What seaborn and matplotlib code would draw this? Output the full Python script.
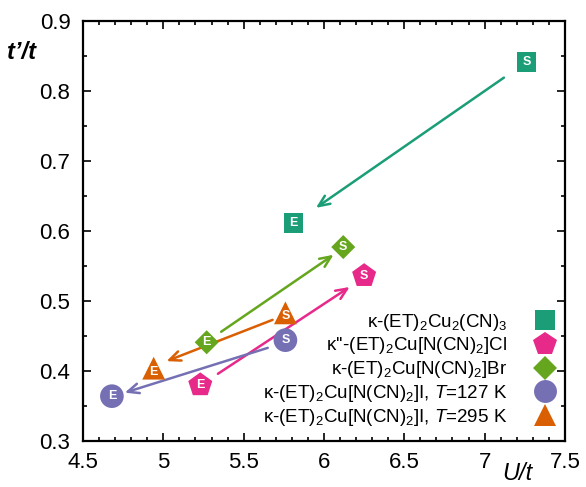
import matplotlib
matplotlib.use("Agg")
import matplotlib.pyplot as plt
import seaborn as sns
import pandas as pd
from matplotlib.lines import Line2D

# compounds and their start (S) / end (E) points
labels = [
    r"κ-(ET)$_2$Cu$_2$(CN)$_3$",
    r"κ''-(ET)$_2$Cu[N(CN)$_2$]Cl",
    r"κ-(ET)$_2$Cu[N(CN)$_2$]Br",
    r"κ-(ET)$_2$Cu[N(CN)$_2$]I, $\mathit{T}$=127 K",
    r"κ-(ET)$_2$Cu[N(CN)$_2$]I, $\mathit{T}$=295 K",
]
u_start = [7.26, 6.25, 6.12, 5.76, 5.76]
t_start = [0.841, 0.536, 0.577, 0.444, 0.483]
u_end = [5.81, 5.23, 5.27, 4.68, 4.94]
t_end = [0.611, 0.380, 0.441, 0.364, 0.404]

# arrow tails and heads
arr_u0 = [7.12, 5.34, 5.36, 5.65, 5.68]
arr_t0 = [0.819, 0.396, 0.456, 0.433, 0.473]
arr_u1 = [5.95, 6.16, 6.06, 4.76, 5.02]
arr_t1 = [0.633, 0.520, 0.566, 0.369, 0.414]

colors = ["#1b9e77", "#e7298a", "#66a61e", "#7570b3", "#d95f02"]
markers = ["s", "p", "D", "o", "^"]
msize = [200, 330, 150, 290, 270]
leg_ms = [15, 17.5, 12, 16.5, 16]

plt.rcParams["font.family"] = ["Liberation Sans", "DejaVu Sans"]
plt.rcParams["mathtext.fontset"] = "custom"
plt.rcParams["mathtext.rm"] = "Liberation Sans"
plt.rcParams["mathtext.it"] = "Liberation Sans:italic"

df = pd.DataFrame({
    "U": u_start + u_end,
    "t": t_start + t_end,
    "name": labels + labels,
    "tag": ["S"] * 5 + ["E"] * 5,
})

fig = plt.figure(figsize=(5.86, 4.87), dpi=100)
ax = fig.add_axes([0.1416, 0.0945, 0.8225, 0.8625])

for i, lab in enumerate(labels):
    ax.annotate("", xy=(arr_u1[i], arr_t1[i]), xytext=(arr_u0[i], arr_t0[i]),
                arrowprops=dict(arrowstyle="->,head_length=0.8,head_width=0.35",
                                color=colors[i], lw=1.8, shrinkA=0, shrinkB=0))

for i, lab in enumerate(labels):
    sub = df[df["name"] == lab]
    sns.scatterplot(data=sub, x="U", y="t", marker=markers[i], color=colors[i],
                    s=msize[i], edgecolor="none", ax=ax, legend=False, zorder=3)
    for _, r in sub.iterrows():
        dy = -0.005 if markers[i] == "^" else 0
        ax.text(r["U"], r["t"] + dy, r["tag"], color="white", fontsize=9,
                fontweight="bold", ha="center", va="center", zorder=4)

ax.set_xlim(4.5, 7.5)
ax.set_ylim(0.3, 0.9)
ax.set_xticks([4.5, 5, 5.5, 6, 6.5, 7, 7.5])
ax.set_xticklabels(["4.5", "5", "5.5", "6", "6.5", "7", "7.5"])
ax.set_yticks([0.3, 0.4, 0.5, 0.6, 0.7, 0.8, 0.9])
ax.set_xticks([4.5 + 0.1 * k for k in range(31)], minor=True)
ax.set_yticks([0.3 + 0.05 * k for k in range(13)], minor=True)
ax.tick_params(which="both", direction="in", top=True, right=True, labelsize=16, width=1.2)
ax.tick_params(which="major", length=6)
ax.tick_params(which="minor", length=3)
ax.tick_params(axis="y", pad=9)
ax.tick_params(axis="x", pad=8)
for sp in ax.spines.values():
    sp.set_linewidth(1.6)
ax.set_xlabel("")
ax.set_ylabel("")

fig.text(0.012, 0.893, "t’/t", fontsize=17, style="italic", fontweight="bold", va="center")
fig.text(0.883, 0.027, "U/t", fontsize=17, style="italic", va="center", ha="center")

handles = [Line2D([], [], marker=m, color=c, linestyle="none", markersize=ms, markeredgewidth=0)
           for m, c, ms in zip(markers, colors, leg_ms)]
ax.legend(handles, labels, loc="lower right", bbox_to_anchor=(1.024, 0.0), frameon=False,
          markerfirst=False, fontsize=13.5, labelspacing=0.15, handletextpad=1.0,
          borderaxespad=0.3)

fig.savefig("out.png", dpi=100)
